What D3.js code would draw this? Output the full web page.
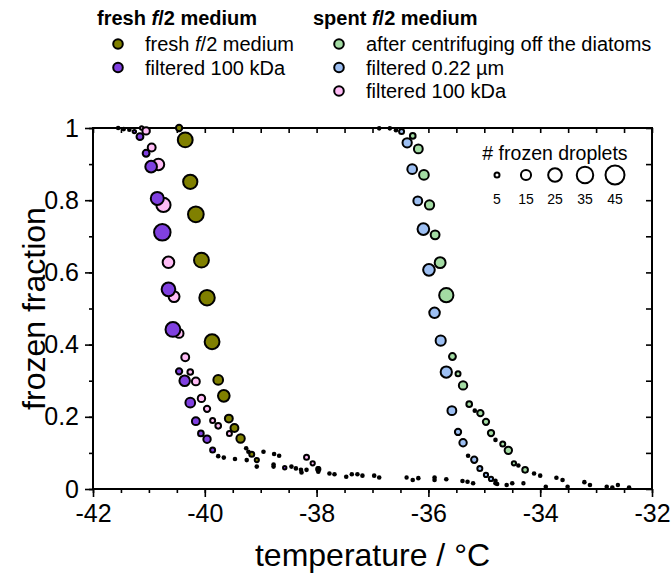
<!DOCTYPE html>
<html>
<head>
<meta charset="utf-8">
<script src="https://cdn.jsdelivr.net/npm/d3@7"></script>
<style>
  body { margin: 0; background: #fff; }
  svg { display: block; font-family: "Liberation Sans", Arial, sans-serif; }
</style>
</head>
<body>
<svg id="chart" width="671" height="576"></svg>
<script>
// [temperature °C, frozen fraction, # frozen droplets]
const freshMedium = [
    [-40.46, 1.000, 7], [-40.35, 0.967, 29], [-40.26, 0.851, 27], [-40.16, 0.761, 32],
    [-40.06, 0.634, 29], [-39.96, 0.530, 31], [-39.87, 0.408, 29], [-39.76, 0.302, 14],
    [-39.66, 0.258, 19], [-39.57, 0.195, 10], [-39.47, 0.169, 10], [-39.36, 0.140, 11],
    [-39.16, 0.096, 5], [-39.07, 0.080, 4]
];
const freshFiltered100 = [
    [-41.26, 0.990, 3], [-41.16, 0.976, 8], [-41.05, 0.930, 8], [-40.96, 0.893, 19],
    [-40.85, 0.805, 23], [-40.76, 0.711, 35], [-40.65, 0.553, 25], [-40.57, 0.442, 29],
    [-40.46, 0.326, 7], [-40.36, 0.300, 16], [-40.26, 0.239, 14], [-40.16, 0.188, 10],
    [-40.07, 0.154, 6], [-39.96, 0.138, 9], [-39.86, 0.108, 5], [-38.57, 0.059, 3],
    [-36.39, 0.032, 2]
];
const spentCentrifuged = [
    [-36.28, 0.978, 6], [-36.18, 0.942, 12], [-36.08, 0.870, 14], [-35.98, 0.787, 13],
    [-35.88, 0.704, 12], [-35.79, 0.627, 17], [-35.68, 0.537, 27], [-35.57, 0.367, 8],
    [-35.47, 0.319, 5], [-35.38, 0.287, 11], [-35.27, 0.235, 6], [-35.07, 0.210, 7],
    [-34.97, 0.186, 7], [-34.88, 0.155, 7], [-34.67, 0.125, 5], [-34.57, 0.107, 9],
    [-34.47, 0.071, 4], [-34.27, 0.053, 6]
];
const spentFiltered022 = [
    [-36.48, 0.990, 5], [-36.38, 0.959, 13], [-36.29, 0.886, 14], [-36.19, 0.798, 12],
    [-36.09, 0.720, 19], [-35.99, 0.607, 19], [-35.89, 0.488, 16], [-35.78, 0.411, 15],
    [-35.68, 0.324, 18], [-35.58, 0.217, 12], [-35.47, 0.158, 7], [-35.38, 0.128, 9],
    [-35.18, 0.081, 7], [-35.08, 0.057, 5], [-34.97, 0.039, 4], [-34.88, 0.028, 4],
    [-32.61, 0.011, 2]
];
const spentFiltered100 = [
    [-41.13, 1.000, 3], [-41.05, 0.992, 9], [-40.95, 0.946, 10], [-40.83, 0.899, 19],
    [-40.74, 0.787, 27], [-40.65, 0.628, 19], [-40.55, 0.533, 17], [-40.46, 0.431, 12],
    [-40.35, 0.365, 10], [-40.26, 0.324, 6], [-40.16, 0.298, 10], [-40.06, 0.251, 9],
    [-39.96, 0.222, 7], [-39.86, 0.190, 5], [-39.76, 0.175, 6], [-39.56, 0.154, 5],
    [-38.18, 0.088, 5], [-38.07, 0.071, 4], [-37.97, 0.055, 4], [-34.30, 0.016, 2]
];
// single droplets, drawn as small black dots
const singleDroplets = [
    [-41.55, 1.000], [-41.45, 0.997], [-41.35, 0.995],
    [-36.88, 0.999], [-36.69, 0.999], [-36.58, 0.994],
    [-39.76, 0.091], [-39.66, 0.087], [-39.46, 0.083], [-39.26, 0.113], [-39.22, 0.103],
    [-39.25, 0.080], [-39.07, 0.062], [-38.95, 0.103], [-38.76, 0.097], [-38.67, 0.092],
    [-38.77, 0.068], [-38.77, 0.062], [-38.45, 0.062], [-38.37, 0.057], [-38.28, 0.053],
    [-38.18, 0.053], [-38.27, 0.046], [-37.97, 0.057], [-37.97, 0.048], [-37.77, 0.043],
    [-37.68, 0.041], [-37.47, 0.034], [-37.37, 0.041], [-37.27, 0.041], [-37.18, 0.037],
    [-36.97, 0.037], [-36.88, 0.032],
    [-36.28, 0.025], [-36.18, 0.030], [-35.89, 0.032], [-35.89, 0.025], [-35.68, 0.027],
    [-35.39, 0.022], [-35.30, 0.020], [-35.20, 0.016], [-34.80, 0.023], [-34.80, 0.016],
    [-34.60, 0.011], [-34.50, 0.016], [-33.90, 0.006], [-33.71, 0.031], [-33.60, 0.025],
    [-33.51, 0.006], [-33.21, 0.019], [-33.11, 0.011], [-32.81, 0.006], [-32.71, 0.004],
    [-32.41, 0.004], [-34.77, 0.014],
    [-35.17, 0.217], [-34.80, 0.136], [-35.29, 0.092], [-34.39, 0.065], [-34.11, 0.043],
    [-34.00, 0.037]
];

const tempTicks = [-42, -40, -38, -36, -34, -32];
const fractionTicks = [0, 0.2, 0.4, 0.6, 0.8, 1];
const sizeLegendCounts = [5, 15, 25, 35, 45];

const colors = {
    freshMedium: "#808000",
    freshFiltered100: "#8040e0",
    spentCentrifuged: "#a3dba3",
    spentFiltered022: "#9dbff2",
    spentFiltered100: "#ffbcf6"
};

const svg = d3.select("#chart");
const margin = { top: 128, right: 19, bottom: 87, left: 93 };
const width = +svg.attr("width");
const height = +svg.attr("height");

const x = d3.scaleLinear().domain([-42, -32]).range([margin.left, width - margin.right]);
const y = d3.scaleLinear().domain([0, 1]).range([height - margin.bottom, margin.top]);
const r = d3.scaleSqrt().domain([0, 45]).range([0, 10.5]);

const x0 = x.range()[0], x1 = x.range()[1];
const y0 = y.range()[0], y1 = y.range()[1];

// axes
const minorX = x.ticks(20);
const minorY = y.ticks(10);

function styleAxis(sel) {
    sel.select(".domain").remove();
    sel.selectAll("line").attr("stroke", "#000").attr("stroke-width", 1.6);
    sel.selectAll("text").attr("font-size", 25).attr("fill", "#000");
}

svg.append("g").attr("transform", `translate(0,${y0})`)
    .call(d3.axisBottom(x).tickValues(minorX).tickSize(4).tickFormat(""))
    .call(styleAxis);
svg.append("g").attr("transform", `translate(0,${y0})`)
    .call(d3.axisBottom(x).tickValues(tempTicks).tickSize(8).tickPadding(7).tickFormat(String))
    .call(styleAxis);
svg.append("g").attr("transform", `translate(0,${y1})`)
    .call(d3.axisTop(x).tickValues(minorX).tickSize(-5).tickFormat(""))
    .call(styleAxis);
svg.append("g").attr("transform", `translate(${x0},0)`)
    .call(d3.axisLeft(y).tickValues(minorY).tickSize(4).tickFormat(""))
    .call(styleAxis);
svg.append("g").attr("transform", `translate(${x0},0)`)
    .call(d3.axisLeft(y).tickValues(fractionTicks).tickSize(8).tickPadding(6).tickFormat(String))
    .call(styleAxis);
svg.append("g").attr("transform", `translate(${x1},0)`)
    .call(d3.axisRight(y).tickValues(minorY).tickSize(-6).tickFormat(""))
    .call(styleAxis);

svg.append("rect")
    .attr("x", x0).attr("y", y1)
    .attr("width", x1 - x0).attr("height", y0 - y1)
    .attr("fill", "none").attr("stroke", "#000").attr("stroke-width", 2);

svg.append("text")
    .attr("x", (x0 + x1) / 2).attr("y", 566)
    .attr("text-anchor", "middle").attr("font-size", 32)
    .text("temperature / °C");

svg.append("text")
    .attr("transform", `translate(45,${(y0 + y1) / 2}) rotate(-90)`)
    .attr("text-anchor", "middle").attr("font-size", 32)
    .text("frozen fraction");

// data points
const seriesOrder = [
    ["spentCentrifuged", spentCentrifuged],
    ["spentFiltered022", spentFiltered022],
    ["spentFiltered100", spentFiltered100],
    ["freshFiltered100", freshFiltered100],
    ["freshMedium", freshMedium]
];

const plot = svg.append("g");
seriesOrder.forEach(([key, data]) => {
    plot.append("g").selectAll("circle")
        .data(data)
        .join("circle")
        .attr("cx", d => x(d[0]))
        .attr("cy", d => y(d[1]))
        .attr("r", d => Math.max(r(d[2]) - 1, 0.8))
        .attr("fill", colors[key])
        .attr("stroke", "#000")
        .attr("stroke-width", 2);
});

plot.append("g").selectAll("circle")
    .data(singleDroplets)
    .join("circle")
    .attr("cx", d => x(d[0]))
    .attr("cy", d => y(d[1]))
    .attr("r", 2.3)
    .attr("fill", "#000");

// colour legend
function labelText(sel, label) {
    const parts = label.split("f/2");
    sel.append("tspan").text(parts[0]);
    if (parts.length > 1) {
        sel.append("tspan").attr("font-style", "italic").text("f");
        sel.append("tspan").text("/2" + parts[1]);
    }
}

const legendGroups = [
    { title: "fresh f/2 medium", x: 97, dotX: 118, textX: 145, items: [
        ["fresh f/2 medium", colors.freshMedium],
        ["filtered 100 kDa", colors.freshFiltered100]
    ] },
    { title: "spent f/2 medium", x: 313, dotX: 339, textX: 366, items: [
        ["after centrifuging off the diatoms", colors.spentCentrifuged],
        ["filtered 0.22 µm", colors.spentFiltered022],
        ["filtered 100 kDa", colors.spentFiltered100]
    ] }
];

legendGroups.forEach(grp => {
    svg.append("text").attr("x", grp.x).attr("y", 25)
        .attr("font-size", 20).attr("font-weight", "bold")
        .call(labelText, grp.title);
    grp.items.forEach(([label, color], i) => {
        const cy = 44 + i * 23.5;
        svg.append("circle").attr("cx", grp.dotX).attr("cy", cy).attr("r", 4.8)
            .attr("fill", color).attr("stroke", "#000").attr("stroke-width", 2);
        svg.append("text").attr("x", grp.textX).attr("y", cy + 7)
            .attr("font-size", 20)
            .call(labelText, label);
    });
});

// size legend
const sizeX = d3.scalePoint().domain(sizeLegendCounts).range([497, 613]);
svg.append("text").attr("x", 555).attr("y", 160)
    .attr("text-anchor", "middle").attr("font-size", 19.5)
    .text("# frozen droplets");
svg.append("g").selectAll("circle")
    .data(sizeLegendCounts)
    .join("circle")
    .attr("cx", d => sizeX(d) + (d === 45 ? 2 : d === 35 ? 1 : 0))
    .attr("cy", 175)
    .attr("r", d => r(d) - 1)
    .attr("fill", "#fff").attr("stroke", "#000").attr("stroke-width", 2);
svg.append("g").selectAll("text")
    .data(sizeLegendCounts)
    .join("text")
    .attr("x", d => sizeX(d) + (d === 45 ? 2 : d === 35 ? 1 : 0))
    .attr("y", 204)
    .attr("text-anchor", "middle").attr("font-size", 14)
    .text(d => d);
</script>
</body>
</html>
